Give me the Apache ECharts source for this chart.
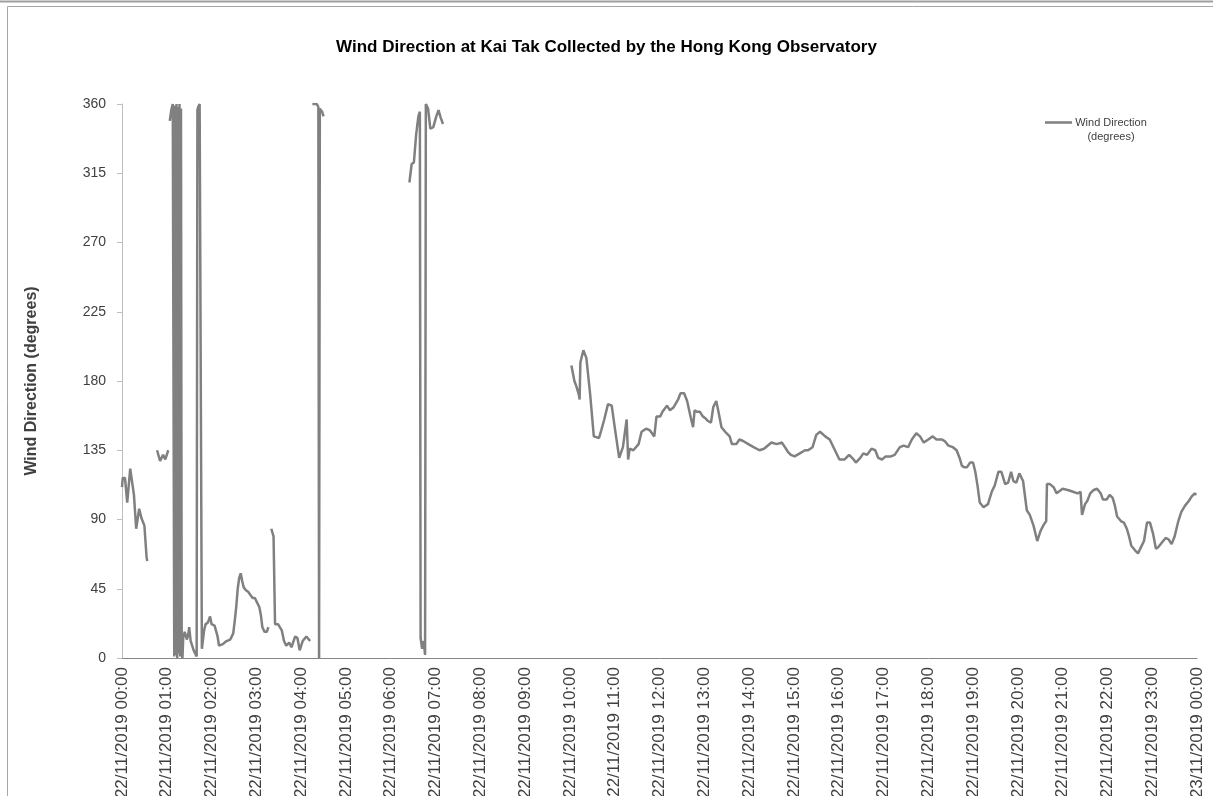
<!DOCTYPE html>
<html>
<head>
<meta charset="utf-8">
<script src="https://cdn.jsdelivr.net/npm/echarts@6/dist/echarts.min.js"></script>
<style>
html,body{margin:0;padding:0;background:#ffffff;}
#chart{width:1213px;height:796px;}
</style>
</head>
<body>
<div id="chart"></div>
<script>
// X tick labels (one per hour)
const tickLabels = [
  '22/11/2019 00:00','22/11/2019 01:00','22/11/2019 02:00','22/11/2019 03:00','22/11/2019 04:00',
  '22/11/2019 05:00','22/11/2019 06:00','22/11/2019 07:00','22/11/2019 08:00','22/11/2019 09:00',
  '22/11/2019 10:00','22/11/2019 11:00','22/11/2019 12:00','22/11/2019 13:00','22/11/2019 14:00',
  '22/11/2019 15:00','22/11/2019 16:00','22/11/2019 17:00','22/11/2019 18:00','22/11/2019 19:00',
  '22/11/2019 20:00','22/11/2019 21:00','22/11/2019 22:00','22/11/2019 23:00','23/11/2019 00:00'
];

// Minutes after 22/11/2019 00:00 (null degree = missing data / gap)
const minutes = [
  0,1,4,7,9,11,13,16,19,20,23,26,30,33,34,
  40,
  47,51,55,58,62,
  63,
  64,66,68,69,70,71,72,73,74,75,76,77,78,79,80,81,82,84,86,87,
  89,90,92,94,96,98,100,101,102,104,106,107,110,112,115,118,120,124,128,130,
  135,140,145,147,149,151,153,155,157,159,161,163,166,169,172,175,178,181,184,186,
  188,191,194,196,
  198,
  200,203,204,205,209,214,217,220,224,227,232,235,238,242,247,252,
  254,
  255,261,263,264,265,268,270,
  300,
  385,388,391,394,397,399,400,402,404,406,407,410,413,417,421,424,427,430,
  500,
  602,606,609,612,613,614,618,622,627,632,
  639,642,646,648,651,656,660,666,671,676,
  677,678,680,685,692,696,702,707,713,716,
  721,724,730,734,739,745,748,753,757,762,
  765,767,770,774,778,781,785,789,792,796,
  799,803,808,814,817,823,827,832,839,846,
  854,860,870,877,884,888,892,896,901,908,
  915,919,925,930,935,942,948,955,961,968,
  974,980,983,989,993,998,1004,1009,1013,1018,
  1023,1030,1035,1042,1047,1053,1058,1064,1069,1074,
  1080,1086,1091,1098,1102,1107,1113,1118,1122,1125,
  1128,1132,1136,1140,1143,1146,1149,1154,1160,1165,
  1169,1174,1178,1183,1187,1191,1194,1198,1202,1207,
  1212,1216,1221,1226,1230,1234,1238,1239,1243,1248,
  1252,1254,1260,1268,1274,1280,1284,1286,1290,1293,
  1297,1301,1306,1311,1314,1319,1323,1327,1330,1333,
  1338,1342,1346,1349,1352,1357,1361,1366,1369,1373,
  1377,1381,1385,1388,1393,1398,1402,1406,1410,1415,
  1419,1424,1429,1433,1437,1439
];

// Wind direction (degrees)
const degrees = [
  111,117,117,101,112,123,122,106,84,83,97,91,86,65,63,
  null,
  135,128,132,129,135,
  null,
  349,356,360,360,1,359,2,360,0,358,3,360,1,357,2,0,13,17,18,12,
  16,20,11,8,5,3,1,356,358,360,360,6,18,22,23,27,22,21,14,8,
  9,11,12,11,16,24,33,45,52,55,50,46,44,43,41,39,39,36,33,28,
  20,17,17,20,
  null,
  84,79,79,22,22,18,11,8,10,7,14,13,5,11,14,11,
  null,
  360,360,358,0,357,355,352,
  null,
  309,321,322,340,352,355,13,6,11,2,360,357,344,345,352,356,351,347,
  null,
  190,180,176,171,168,192,200,195,172,144,
  143,148,155,156,165,164,150,130,137,155,
  156,129,136,135,139,147,149,148,144,157,
  157,160,164,161,163,168,172,172,167,156,
  150,161,160,160,157,156,154,153,163,167,
  160,150,147,144,139,139,142,141,139,137,
  135,136,140,139,140,137,134,132,131,133,
  135,135,137,145,147,144,142,135,129,129,
  132,129,127,130,133,132,136,135,130,129,
  131,131,132,137,138,137,142,146,144,140,
  142,144,142,142,141,138,137,135,130,125,
  124,124,127,127,121,112,101,98,100,108,
  112,121,121,113,114,121,115,114,120,115,
  96,93,86,76,82,86,89,113,113,111,
  107,108,110,109,108,107,108,93,100,102,
  107,109,110,107,103,103,106,104,99,92,
  89,88,84,79,73,70,68,73,76,88,
  88,81,71,72,75,78,77,74,79,89,
  95,99,102,105,107,106
];

const seriesName = 'Wind Direction (degrees)';
const data = minutes.map((m, i) => [m, degrees[i] === null ? '-' : degrees[i]]);

const FONT = 'Liberation Sans, Arial, sans-serif';
const chart = echarts.init(document.getElementById('chart'), null, {renderer: 'canvas'});
chart.setOption({
  backgroundColor: '#ffffff',
  animation: false,
  title: {
    text: 'Wind Direction at Kai Tak Collected by the Hong Kong Observatory',
    left: 'center',
    top: 34,
    textStyle: {fontFamily: FONT, fontSize: 17, fontWeight: 'bold', color: '#000000'}
  },
  legend: {
    left: 1045,
    top: 117,
    padding: 0,
    itemWidth: 27,
    itemHeight: 16.5,
    icon: 'path://M0,0H27V2.5H0Z M0,16.5H27',
    itemStyle: {color: '#808080', borderWidth: 0},
    data: [seriesName],
    formatter: function () { return '{a|Wind Direction}\n{a|(degrees)}'; },
    textStyle: {
      fontFamily: FONT,
      rich: {a: {fontFamily: FONT, fontSize: 11, lineHeight: 14, width: 68, align: 'center', color: '#404040'}}
    }
  },
  grid: {left: 122, right: 16, top: 104, bottom: 138, containLabel: false, outerBoundsMode: 'none'},
  xAxis: {
    type: 'value',
    min: 0,
    max: 1440,
    interval: 60,
    axisLine: {show: true, lineStyle: {color: '#868686', width: 1}},
    axisTick: {show: false},
    splitLine: {show: false},
    axisLabel: {
      rotate: 90,
      margin: 9,
      fontFamily: FONT,
      fontSize: 17,
      color: '#404040',
      showMinLabel: true,
      showMaxLabel: true,
      formatter: function (v) { return tickLabels[Math.round(v / 60)]; }
    }
  },
  yAxis: {
    type: 'value',
    min: 0,
    max: 360,
    interval: 45,
    name: 'Wind Direction (degrees)',
    nameLocation: 'middle',
    nameGap: 82,
    nameRotate: 90,
    nameTextStyle: {fontFamily: FONT, fontSize: 16, fontWeight: 'bold', color: '#404040'},
    axisLine: {show: true, lineStyle: {color: '#bfbfbf', width: 1}},
    axisTick: {show: true, inside: false, length: 5, lineStyle: {color: '#bfbfbf'}},
    splitLine: {show: false},
    axisLabel: {fontFamily: FONT, fontSize: 14, color: '#404040', margin: 16}
  },
  series: [{
    name: seriesName,
    type: 'line',
    data: data,
    showSymbol: false,
    connectNulls: false,
    lineStyle: {color: '#808080', width: 2.5},
    itemStyle: {color: '#808080'}
  }],
  graphic: [
    {type: 'line', silent: true, shape: {x1: 0, y1: 1.5, x2: 1213, y2: 1.5}, style: {stroke: '#a0a0a0', lineWidth: 2}},
    {type: 'rect', silent: true, shape: {x: 7.5, y: 6.5, width: 1215, height: 800}, style: {fill: 'none', stroke: '#a6a6a6', lineWidth: 1}}
  ]
});
</script>
</body>
</html>
